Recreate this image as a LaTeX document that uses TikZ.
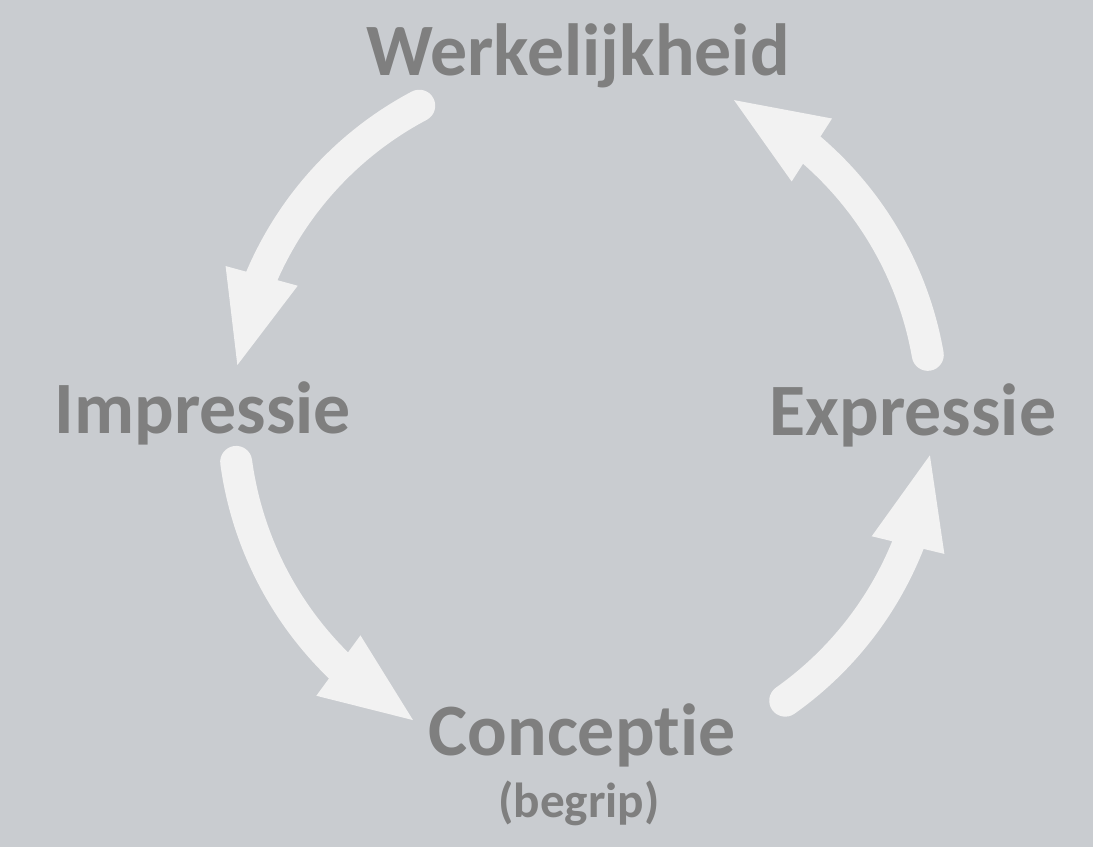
\documentclass[tikz,border=0pt]{standalone}
\usepackage{fontspec}
\setmainfont{Carlito}[Ligatures={NoCommon,NoContextual},RawFeature={-liga,-clig}]
\usetikzlibrary{arrows.meta,bending}
\definecolor{bgcol}{HTML}{C9CCD0}
\definecolor{txtcol}{HTML}{7F7F7F}
\definecolor{arrcol}{HTML}{F2F2F2}
\begin{document}
\begin{tikzpicture}[x=0.01cm,y=-0.01cm, line join = round, line cap = round,font=\bfseries]
                \tikzset{word/.style={text=txtcol,font=\fontsize{21}{25}\selectfont\bfseries,inner sep=0pt,anchor=base},
                         cyc/.style={draw=arrcol,line width=9.1pt,-{Triangle[length=27.9pt,width=18.8pt,flex]}}}
                \fill[bgcol] (0,0) rectangle (1093,847);
                \useasboundingbox (0,0) rectangle (1093,847);
                \node[word] (werk) at (578,75) {Werkelijkheid};
                \node[word] (imp) at (203,433) {Impressie};
                \node[word] (exp) at (913,435) {Expressie};
                \node[word] (con) at (582,755) {Conceptie};
                \node[word,font=\fontsize{14}{17}\selectfont\bfseries] (beg) at (579,817) {(begrip)};
                \coordinate (c) at (583,415);
                \coordinate (s1) at ([shift={(-117.9:350)}]c);
                \coordinate (s2) at ([shift={(-187.7:350)}]c);
                \coordinate (s3) at ([shift={(-305.3:350)}]c);
                \coordinate (s4) at ([shift={(-9.9:350)}]c);
                \draw[cyc] (s1) arc[start angle=-117.9, end angle=-172.7, radius=350];
                \draw[cyc] (s2) arc[start angle=-187.7, end angle=-241.8, radius=350];
                \draw[cyc] (s3) arc[start angle=-305.3, end angle=-354.3, radius=350];
                \draw[cyc] (s4) arc[start angle=-9.9, end angle=-65.3, radius=350];
            \end{tikzpicture}
\end{document}
